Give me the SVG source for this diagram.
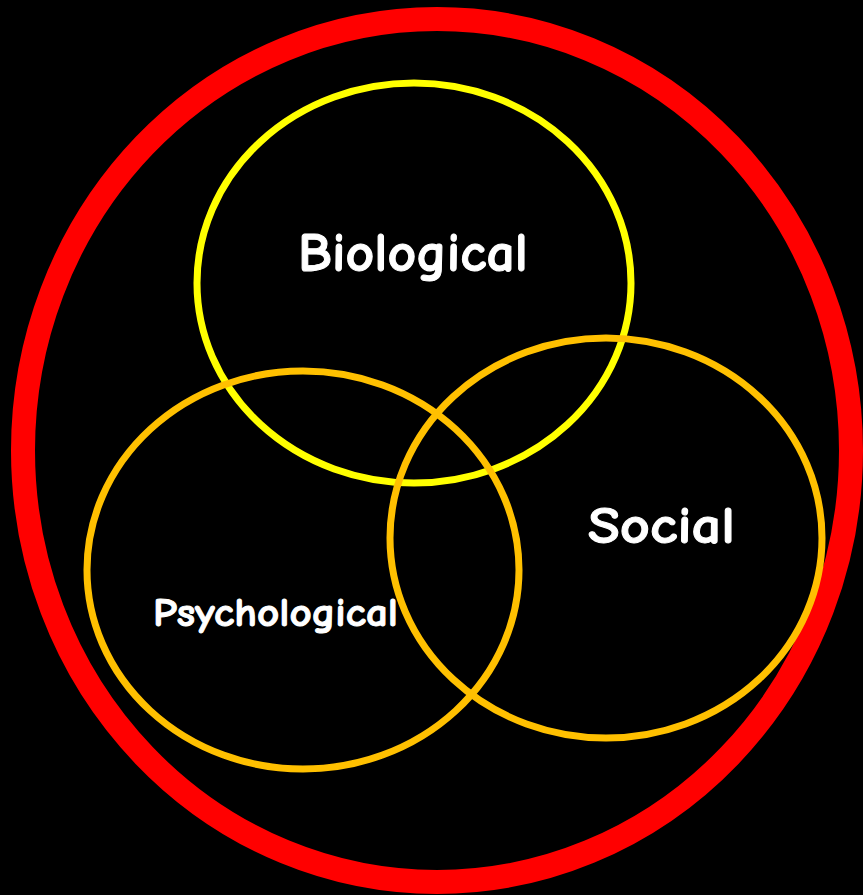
<svg xmlns="http://www.w3.org/2000/svg" width="863" height="895" viewBox="0 0 863 895">
<style>
.ring{fill:none}
.lbl{fill:#fff;font-family:"Comic Neue","DejaVu Sans","Noto Sans",sans-serif;font-weight:bold;stroke:#fff;stroke-width:1}
</style>
<rect width="863" height="895" fill="#000"/>
<g id="outer"><ellipse class="ring" cx="437" cy="450.5" rx="414" ry="431.5" stroke="#FF0000" stroke-width="24"/></g>
<g id="biological">
<ellipse class="ring" cx="414" cy="283" rx="217" ry="200" stroke="#FFFF00" stroke-width="7"/>
<text class="lbl" x="298" y="271" font-size="54" textLength="230" lengthAdjust="spacingAndGlyphs">Biological</text>
</g>
<g id="psychological">
<ellipse class="ring" cx="303" cy="570" rx="216" ry="199" stroke="#FFC000" stroke-width="7"/>
<text class="lbl" x="153" y="626" font-size="41" textLength="245" lengthAdjust="spacingAndGlyphs">Psychological</text>
</g>
<g id="social">
<ellipse class="ring" cx="606" cy="538" rx="216" ry="200" stroke="#FFC000" stroke-width="7"/>
<text class="lbl" x="588" y="543" font-size="53" textLength="147" lengthAdjust="spacingAndGlyphs">Social</text>
</g>
<g id="connectors"/>
</svg>
